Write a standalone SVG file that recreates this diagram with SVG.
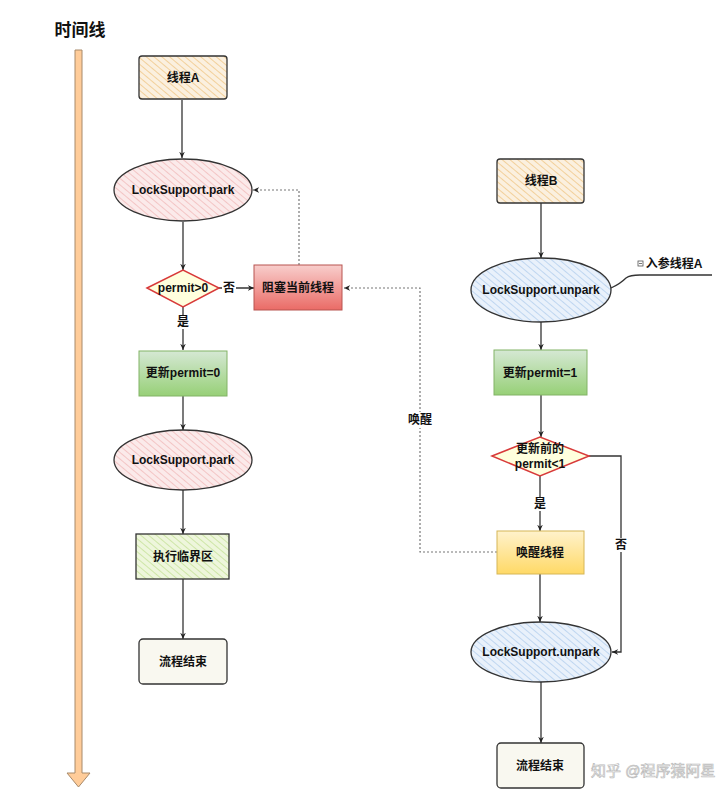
<svg xmlns="http://www.w3.org/2000/svg" width="720" height="801" viewBox="0 0 720 801">
<defs>
<pattern id="hOrange" patternUnits="userSpaceOnUse" width="5" height="5" patternTransform="rotate(-50)"><rect width="5" height="5" fill="#fbf0df"/><line x1="0" y1="0" x2="0" y2="5" stroke="#f0c88a" stroke-width="1.6"/></pattern>
<pattern id="hPink" patternUnits="userSpaceOnUse" width="5" height="5" patternTransform="rotate(-50)"><rect width="5" height="5" fill="#fbeaea"/><line x1="0" y1="0" x2="0" y2="5" stroke="#f2bcbc" stroke-width="1.6"/></pattern>
<pattern id="hBlue" patternUnits="userSpaceOnUse" width="5" height="5" patternTransform="rotate(-50)"><rect width="5" height="5" fill="#e9f1fb"/><line x1="0" y1="0" x2="0" y2="5" stroke="#b4cfee" stroke-width="1.6"/></pattern>
<pattern id="hGreen" patternUnits="userSpaceOnUse" width="5" height="5" patternTransform="rotate(-50)"><rect width="5" height="5" fill="#eef6dc"/><line x1="0" y1="0" x2="0" y2="5" stroke="#c6e39a" stroke-width="1.6"/></pattern>
<linearGradient id="gRed" x1="0" y1="0" x2="0" y2="1"><stop offset="0" stop-color="#f8cecc"/><stop offset="1" stop-color="#ea6b66"/></linearGradient>
<linearGradient id="gGreen" x1="0" y1="0" x2="0" y2="1"><stop offset="0" stop-color="#d5e8d4"/><stop offset="1" stop-color="#97d077"/></linearGradient>
<linearGradient id="gYellow" x1="0" y1="0" x2="0" y2="1"><stop offset="0" stop-color="#fff2cc"/><stop offset="1" stop-color="#ffd966"/></linearGradient>
<marker id="arr" viewBox="0 0 10 10" refX="9" refY="5" markerWidth="7" markerHeight="7" orient="auto" markerUnits="userSpaceOnUse"><path d="M0,1 L9,5 L0,9 L3,5 Z" fill="#222"/></marker>
</defs>
<style>
text{font-family:"Liberation Sans","Noto Sans CJK SC",sans-serif;font-weight:bold;font-size:12px;fill:#111;text-anchor:middle;dominant-baseline:central}
.sk{stroke:#333;stroke-width:1.3}
.ln{fill:none;stroke:#333;stroke-width:1.3}
.dot{fill:none;stroke:#777;stroke-width:1.2;stroke-dasharray:2 2}
</style>
<rect width="720" height="801" fill="#ffffff"/>
<text x="80" y="30" style="font-size:17px">时间线</text>
<g id="timeline">
<path d="M75,50 L82,50 L82,773 L90,773 L78.5,787 L67,773 L75,773 Z" fill="#ffcc99" stroke="#a88a6a" stroke-width="1"/>
</g>
<g id="connectors">
<line class="ln" x1="182" y1="100" x2="182" y2="158" marker-end="url(#arr)"/>
<line class="ln" x1="183" y1="222" x2="183" y2="270" marker-end="url(#arr)"/>
<line class="ln" x1="219" y1="288" x2="254" y2="288" marker-end="url(#arr)"/>
<rect x="222" y="281" width="14" height="14" fill="#fff"/>
<text x="229" y="288">否</text>
<path class="dot" d="M299,265 L299,190 L253,190" marker-end="url(#arr)"/>
<line class="ln" x1="183" y1="307" x2="183" y2="350" marker-end="url(#arr)"/>
<rect x="176" y="315" width="14" height="14" fill="#fff"/>
<text x="183" y="322">是</text>
<line class="ln" x1="183" y1="396" x2="183" y2="430" marker-end="url(#arr)"/>
<line class="ln" x1="183" y1="490" x2="183" y2="534" marker-end="url(#arr)"/>
<line class="ln" x1="183" y1="579" x2="183" y2="639" marker-end="url(#arr)"/>
<line class="ln" x1="541" y1="203" x2="541" y2="258" marker-end="url(#arr)"/>
<path class="ln" d="M611,288 Q620,284 626,278 Q630,275 640,275 L712,275"/>
<line class="ln" x1="541" y1="322" x2="541" y2="350" marker-end="url(#arr)"/>
<line class="ln" x1="541" y1="395" x2="541" y2="437" marker-end="url(#arr)"/>
<path class="ln" d="M589,456 L621,456 L621,652 L612,652" marker-end="url(#arr)"/>
<rect x="614" y="538" width="14" height="14" fill="#fff"/>
<text x="621" y="545">否</text>
<line class="ln" x1="540" y1="476" x2="540" y2="531" marker-end="url(#arr)"/>
<rect x="533" y="497" width="14" height="14" fill="#fff"/>
<text x="540" y="504">是</text>
<path class="dot" d="M497,552 L420,552 L420,288 L344,288" marker-end="url(#arr)"/>
<rect x="405" y="412" width="30" height="16" fill="#fff"/>
<text x="420" y="420">唤醒</text>
<line class="ln" x1="540" y1="574" x2="540" y2="622" marker-end="url(#arr)"/>
<line class="ln" x1="541" y1="682" x2="541" y2="743" marker-end="url(#arr)"/>
</g>
<g id="threadA">
<rect x="139" y="56" width="88" height="43" rx="3" fill="url(#hOrange)" class="sk"/>
<text x="183" y="78">线程A</text>
</g>
<g id="parkA1">
<ellipse cx="183" cy="190" rx="69" ry="31" fill="url(#hPink)" class="sk"/>
<text x="183" y="190">LockSupport.park</text>
</g>
<g id="decisionA">
<path d="M147,288 L183,270 L219,288 L183,307 Z" fill="#ffffdd" stroke="#d83a3a" stroke-width="1.5"/>
<text x="183" y="288">permit&gt;0</text>
</g>
<g id="block">
<rect x="254" y="265" width="88" height="45" fill="url(#gRed)" stroke="#b85450" stroke-width="1"/>
<text x="298" y="288">阻塞当前线程</text>
</g>
<g id="setZero">
<rect x="139" y="351" width="88" height="45" fill="url(#gGreen)" stroke="#82b366" stroke-width="1"/>
<text x="183" y="373">更新permit=0</text>
</g>
<g id="parkA2">
<ellipse cx="183" cy="460" rx="69" ry="30" fill="url(#hPink)" class="sk"/>
<text x="183" y="460">LockSupport.park</text>
</g>
<g id="critical">
<rect x="136" y="534" width="93" height="45" fill="url(#hGreen)" class="sk"/>
<text x="183" y="557">执行临界区</text>
</g>
<g id="endA">
<rect x="139" y="639" width="88" height="45" rx="4" fill="#f9f8f0" class="sk"/>
<text x="183" y="662">流程结束</text>
</g>
<g id="threadB">
<rect x="497" y="159" width="87" height="44" rx="3" fill="url(#hOrange)" class="sk"/>
<text x="541" y="181">线程B</text>
</g>
<g id="unpark1">
<ellipse cx="541" cy="290" rx="70" ry="32" fill="url(#hBlue)" class="sk"/>
<text x="541" y="290">LockSupport.unpark</text>
</g>
<g id="note">
<rect x="638" y="261" width="5" height="5" fill="none" stroke="#555" stroke-width="0.8"/>
<line x1="639" y1="263.5" x2="642" y2="263.5" stroke="#555" stroke-width="0.8"/>
<text x="674" y="264">入参线程A</text>
</g>
<g id="setOne">
<rect x="494" y="350" width="93" height="45" fill="url(#gGreen)" stroke="#82b366" stroke-width="1"/>
<text x="540" y="373">更新permit=1</text>
</g>
<g id="decisionB">
<path d="M492,456 L540,437 L589,456 L540,476 Z" fill="#ffffdd" stroke="#d83a3a" stroke-width="1.5"/>
<text x="540" y="449">更新前的</text>
<text x="540" y="464">permit&lt;1</text>
</g>
<g id="wake">
<rect x="497" y="531" width="87" height="43" fill="url(#gYellow)" stroke="#d6b656" stroke-width="1"/>
<text x="540" y="553">唤醒线程</text>
</g>
<g id="unpark2">
<ellipse cx="541" cy="652" rx="70" ry="30" fill="url(#hBlue)" class="sk"/>
<text x="541" y="652">LockSupport.unpark</text>
</g>
<g id="endB">
<rect x="497" y="743" width="87" height="45" rx="4" fill="#f9f8f0" class="sk"/>
<text x="540" y="766">流程结束</text>
</g>
<text x="591" y="770" style="font-size:15px;font-weight:normal;fill:#ffffff;stroke:#bbbbbb;stroke-width:0.7;text-anchor:start">知乎 @程序猿阿星</text>
</svg>
